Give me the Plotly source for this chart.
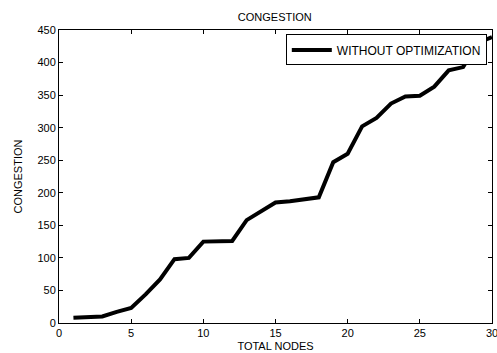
import plotly.graph_objects as go

nodes = list(range(1, 31))
congestion = [8, 9, 10, 17, 23, 44, 67, 98, 100, 125, 126, 126, 158, 172, 185,
              187, 190, 193, 247, 260, 302, 315, 337, 348, 349, 363, 388, 393, 430, 439]
x_ticks = [0, 5, 10, 15, 20, 25, 30]
y_ticks = [0, 50, 100, 150, 200, 250, 300, 350, 400, 450]

font = dict(family="Liberation Sans, Arial, sans-serif", size=11, color="black")

fig = go.Figure()
fig.add_trace(go.Scatter(x=nodes, y=congestion, mode="lines",
                         line=dict(color="black", width=4),
                         name="WITHOUT OPTIMIZATION"))

axis_common = dict(showgrid=False, zeroline=False, showline=True, linecolor="black",
                   linewidth=1, mirror="ticks", ticks="inside", ticklen=4,
                   tickcolor="black", tickfont=font, automargin=False)

fig.update_layout(
    width=497, height=353,
    margin=dict(l=59, r=5, t=30, b=30, autoexpand=False),
    paper_bgcolor="white", plot_bgcolor="white",
    font=font,
    title=dict(text="CONGESTION", x=0.553, xanchor="center", y=1 - 17/353,
               yanchor="middle", font=font),
    xaxis=dict(range=[0, 30], tickvals=x_ticks, ticklabeloverflow="allow",
               title=dict(text="TOTAL NODES", font=font, standoff=4), **axis_common),
    yaxis=dict(range=[0, 450], tickvals=y_ticks,
               title=dict(text="CONGESTION", font=font, standoff=12), **axis_common),
    legend=dict(x=0.988, y=0.985, xanchor="right", yanchor="top",
                bordercolor="black", borderwidth=1, bgcolor="white",
                font=dict(family="Liberation Sans, Arial, sans-serif", size=12, color="black"),
                tracegroupgap=0, itemwidth=40),
    showlegend=True,
)

fig.write_html("out.html")
